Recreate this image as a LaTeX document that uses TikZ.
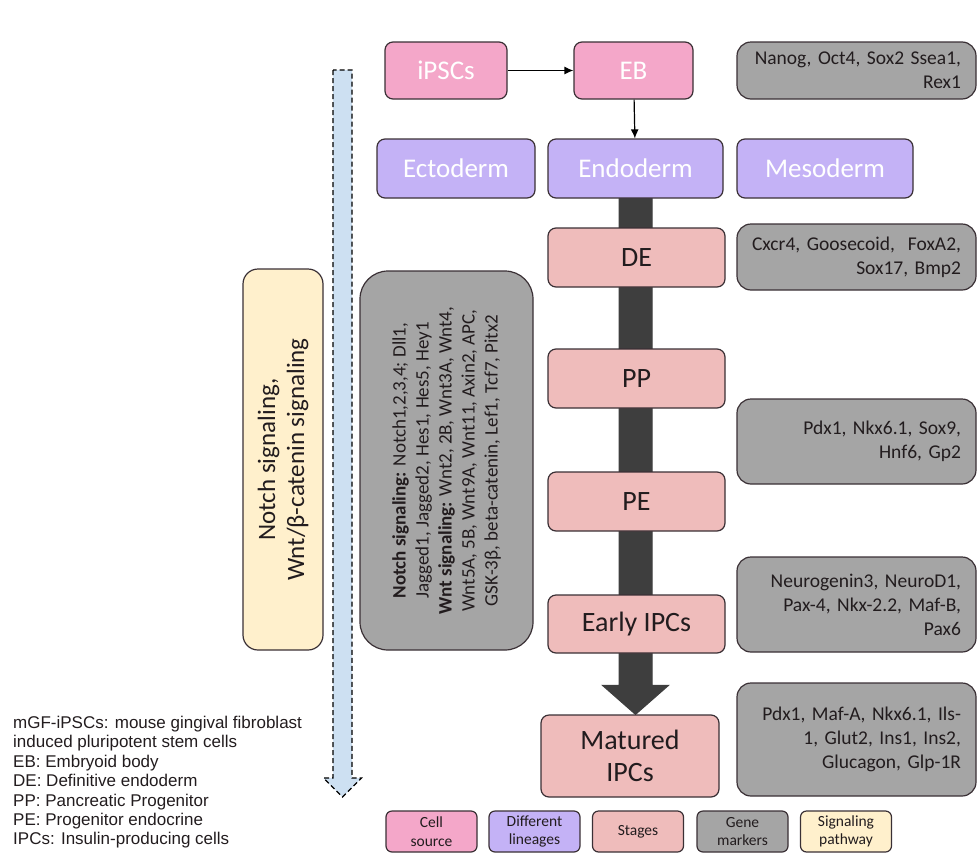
\documentclass[tikz,border=0pt]{standalone}
\usepackage{fontspec}
\setmainfont{Carlito}
\newfontfamily\abbrfont{Liberation Sans}
\usepackage{tikz}
\usetikzlibrary{calc,backgrounds,arrows.meta}
\definecolor{edgec}{RGB}{58,48,53}
\definecolor{cellpink}{RGB}{244,167,201}
\definecolor{lineagec}{RGB}{196,178,246}
\definecolor{stagec}{RGB}{239,188,187}
\definecolor{markerc}{RGB}{165,165,165}
\definecolor{pathc}{RGB}{255,240,204}
\definecolor{sigblue}{RGB}{205,224,242}
\definecolor{arrowdark}{RGB}{62,62,62}
\definecolor{textdark}{RGB}{34,28,30}

\begin{document}
\begin{tikzpicture}[x = 1pt, y = -1pt, >={Latex[length=9pt, width=8pt]},
box/.style = {draw = edgec, line width = 1.2pt, rounded corners = 8pt, inner sep = 0pt, align = center},
cell/.style = {box, fill = cellpink, text = white, minimum height = 57pt, font = \fontsize{27}{30}\selectfont},
lineage/.style = {box, fill = lineagec, text = white, minimum height = 59pt, font = \fontsize{27}{30}\selectfont},
stage/.style = {box, fill = stagec, text = textdark, minimum width = 177pt, minimum height = 59pt, font = \fontsize{28}{32}\selectfont},
marker/.style = {box, fill = markerc, text = textdark, rounded corners = 14pt, minimum width = 239pt, text width = 209pt, align = right, font = \fontsize{19.5}{24}\selectfont},
key/.style = {box, text = textdark, rounded corners = 6pt, minimum width = 91pt, minimum height = 41pt, font = \fontsize{15.5}{18.5}\selectfont}]
\useasboundingbox (0,0) rectangle (977,854);

\node[cell, minimum width = 122pt] (ipsc) at (446,70.5) {iPSCs};
\node[cell, minimum width = 119pt] (eb) at (633.5,70.5) {EB};
\node[marker, minimum height = 57pt] (mkeb) at (856.5,70.5) {Nanog, Oct4, Sox2 Ssea1,\\Rex1};

\node[lineage, minimum width = 158pt] (ecto) at (456,168.5) {Ectoderm};
\node[lineage, minimum width = 175pt] (endo) at (635.5,168.5) {Endoderm};
\node[lineage, minimum width = 176pt] (meso) at (825,168.5) {Mesoderm};

\node[stage] (de) at (636.5,257.5) {DE};
\node[stage] (pp) at (636.5,378.5) {PP};
\node[stage] (pe) at (636.5,501.5) {PE};
\node[stage, minimum height = 58pt] (early) at (636.5,624) {Early IPCs};
\node[stage, minimum width = 178pt, minimum height = 82pt] (mat) at (630,756) {Matured\\IPCs};

\node[marker, minimum height = 66pt] (mkde) at (856.5,257) {Cxcr4, Goosecoid,\ \ FoxA2,\\Sox17,\ Bmp2};
\node[marker, minimum height = 85pt] (mkpp) at (856.5,441.5) {Pdx1, Nkx6.1, Sox9,\\Hnf6, Gp2};
\node[marker, minimum height = 95pt] (mkearly) at (856.5,604.5) {Neurogenin3, NeuroD1,\\Pax-4, Nkx-2.2, Maf-B,\\Pax6};
\node[marker, minimum height = 113pt] (mkmat) at (856.5,739.5) {Pdx1, Maf-A, Nkx6.1,\ Ils-\\1, Glut2, Ins1, Ins2,\\Glucagon, Glp-1R};

\node[box, fill = pathc, text = textdark, rotate = 90, rounded corners = 15pt, minimum width = 381pt, minimum height = 80pt, font = \fontsize{25}{29}\selectfont] (path) at (283,459.5) {Notch signaling,\\Wnt/β-catenin signaling};
\node[box, fill = markerc, text = textdark, rotate = 90, rounded corners = 28pt, minimum width = 379pt, minimum height = 173pt, font = \fontsize{19}{23}\selectfont] (genes) at (446.5,460.5) {\textbf{Notch signaling:} Notch1,2,3,4; Dll1,\\Jagged1, Jagged2, Hes1, Hes5, Hey1\\\textbf{Wnt signaling:} Wnt2, 2B, Wnt3A, Wnt4,\\Wnt5A, 5B, Wnt9A, Wnt11, Axin2, APC,\\GSK-3β, beta-catenin, Lef1, Tcf7, Pitx2};

\draw[->, line width = 1.2pt] (ipsc) -- (eb);
\draw[->, line width = 1.2pt] (eb) -- (endo);

\coordinate (tip) at (endo.south |- mat.north);
\begin{scope}[on background layer]
\draw[arrowdark, fill = arrowdark, line width = 1pt] ($(endo.south)+(-16.5,0)$) -- ($(tip)+(-16.5,-29)$) -- ($(tip)+(-33,-29)$) -- (tip) -- ($(tip)+(33,-29)$) -- ($(tip)+(16.5,-29)$) -- ($(endo.south)+(16.5,0)$) -- cycle;
\end{scope}

\coordinate (sigtop) at (342.5,70);
\coordinate (sigtip) at (342.5,797);
\draw[fill = sigblue, line width = 1.1pt, dash pattern = on 5pt off 3pt] ($(sigtop)+(-9.5,0)$) -- ($(sigtip)+(-9.5,-19)$) -- ($(sigtip)+(-19,-19)$) -- (sigtip) -- ($(sigtip)+(19,-19)$) -- ($(sigtip)+(9.5,-19)$) -- ($(sigtop)+(9.5,0)$) -- cycle;

\node[anchor = north west, align = left, inner sep = 0pt, text = textdark, font = \abbrfont\fontsize{17}{19.4}\selectfont] (abbr) at (13,716) {mGF-iPSCs: mouse gingival fibroblast\\induced pluripotent stem cells\\EB: Embryoid body\\DE: Definitive endoderm\\PP: Pancreatic Progenitor\\PE: Progenitor endocrine\\IPCs: Insulin-producing cells};

\node[key, fill = cellpink] (kcell) at (431.5,831.5) {Cell\\source};
\node[key, fill = lineagec] (klin) at (534.5,831.5) {Different\\lineages};
\node[key, fill = stagec] (kstage) at (638,831.5) {Stages};
\node[key, fill = markerc] (kgene) at (742.5,831.5) {Gene\\markers};
\node[key, fill = pathc] (kpath) at (846,831.5) {Signaling\\pathway};
\end{tikzpicture}
\end{document}
